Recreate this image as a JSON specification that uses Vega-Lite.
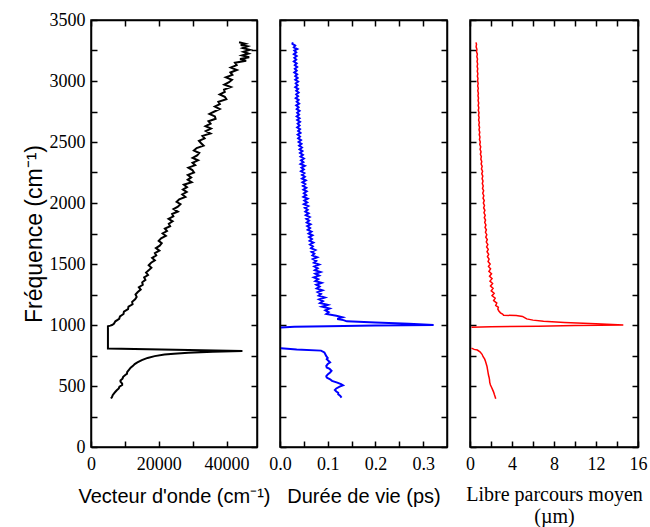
{
"$schema": "https://vega.github.io/schema/vega-lite/v6.json",
"padding": {"left": 22, "top": 10, "right": 2, "bottom": 2},
"background": "white",
"bounds": "flush",
"config": {
  "view": {"stroke": "black", "strokeWidth": 1.5},
  "concat": {"spacing": 23},
  "axis": {"domainColor": "black", "domainWidth": 1.5, "tickColor": "black", "tickWidth": 1.5, "tickSize": -6, "labelFont": "Liberation Serif", "labelFontSize": 18, "labelColor": "black", "labelPadding": 14, "labelFlush": false, "titleFont": "Liberation Sans", "titleFontSize": 20, "titleFontWeight": "normal", "titleColor": "black", "grid": false, "minExtent": 0, "labelOverlap": false}
},
"datasets": {
"k": [
{"f":3317,"v":43700},{"f":3305,"v":45500},{"f":3295,"v":44200},{"f":3285,"v":46200},{"f":3270,"v":44800},{"f":3255,"v":46800},{"f":3240,"v":45000},{"f":3225,"v":46500},{"f":3210,"v":44600},{"f":3195,"v":46700},{"f":3180,"v":44000},{"f":3166,"v":45800},{"f":3150,"v":42500},
{"f":3130,"v":43000},{"f":3110,"v":41270},{"f":3090,"v":43060},{"f":3070,"v":41150},{"f":3050,"v":41730},{"f":3030,"v":39820},{"f":3010,"v":41610},{"f":2990,"v":40750},{"f":2970,"v":39360},{"f":2950,"v":41270},{"f":2930,"v":39280},{"f":2910,"v":39490},{"f":2890,"v":37990},{"f":2870,"v":39500},{"f":2850,"v":39960},{"f":2830,"v":37600},{"f":2810,"v":38030},{"f":2790,"v":36570},{"f":2770,"v":38000},{"f":2750,"v":36440},{"f":2730,"v":34970},{"f":2710,"v":36570},{"f":2690,"v":36780},{"f":2670,"v":34680},{"f":2650,"v":35290},{"f":2630,"v":33800},{"f":2610,"v":35410},{"f":2590,"v":33910},{"f":2570,"v":35260},{"f":2550,"v":32900},{"f":2530,"v":33530},{"f":2510,"v":31870},{"f":2490,"v":32510},{"f":2470,"v":33240},{"f":2450,"v":31190},{"f":2430,"v":30370},{"f":2410,"v":31950},{"f":2390,"v":31330},{"f":2370,"v":30010},{"f":2350,"v":31590},{"f":2330,"v":29970},{"f":2310,"v":30760},{"f":2290,"v":28740},{"f":2270,"v":29920},{"f":2250,"v":30410},{"f":2230,"v":28590},{"f":2210,"v":29570},{"f":2190,"v":28550},{"f":2170,"v":29710},{"f":2150,"v":27420},{"f":2130,"v":28330},{"f":2110,"v":27130},{"f":2090,"v":28240},{"f":2070,"v":26950},{"f":2050,"v":27860},{"f":2030,"v":26040},{"f":2010,"v":25270},{"f":1990,"v":26410},{"f":1970,"v":25650},{"f":1950,"v":24380},{"f":1930,"v":25620},{"f":1910,"v":23950},{"f":1890,"v":24310},{"f":1870,"v":22900},{"f":1850,"v":24080},{"f":1830,"v":22970},{"f":1810,"v":23360},{"f":1790,"v":21810},{"f":1770,"v":22430},{"f":1750,"v":21150},{"f":1730,"v":22090},{"f":1710,"v":20690},{"f":1690,"v":19980},{"f":1670,"v":20880},{"f":1650,"v":20280},{"f":1630,"v":19170},{"f":1610,"v":20170},{"f":1590,"v":18860},{"f":1570,"v":19260},{"f":1550,"v":18050},{"f":1530,"v":18850},{"f":1510,"v":17740},{"f":1490,"v":17030},{"f":1470,"v":17830},{"f":1450,"v":17100},{"f":1430,"v":16260},{"f":1410,"v":16830},{"f":1390,"v":15690},{"f":1370,"v":16060},{"f":1350,"v":15120},{"f":1330,"v":15280},{"f":1310,"v":14130},{"f":1290,"v":14670},{"f":1270,"v":13810},{"f":1250,"v":13140},{"f":1230,"v":13480},{"f":1210,"v":13020},{"f":1190,"v":12150},{"f":1170,"v":12270},{"f":1150,"v":11060},{"f":1130,"v":10940},{"f":1110,"v":9720},{"f":1090,"v":9600},{"f":1070,"v":8550},{"f":1050,"v":8320},{"f":1030,"v":7190},{"f":1010,"v":6760},{"f":1000,"v":6200},{"f":995,"v":5700},{"f":990,"v":5000},{"f":981,"v":5000},{"f":808,"v":5000},{"f":786,"v":44700},{"f":780,"v":36000},{"f":772,"v":28700},{"f":765,"v":24500},{"f":758,"v":21700},{"f":745,"v":18800},{"f":730,"v":16700},{"f":712,"v":15000},{"f":694,"v":13700},{"f":680,"v":12900},{"f":665,"v":12400},{"f":650,"v":11700},{"f":633,"v":11200},{"f":615,"v":10700},{"f":600,"v":10600},{"f":592,"v":10200},{"f":575,"v":9500},{"f":560,"v":9300},{"f":545,"v":8700},{"f":536,"v":8700},{"f":520,"v":9200},{"f":508,"v":9200},{"f":495,"v":8400},{"f":480,"v":8200},{"f":465,"v":7600},{"f":453,"v":7200},{"f":440,"v":6800},{"f":425,"v":6400},{"f":410,"v":6200},{"f":397,"v":5900}
],
"b": [
{"s":"a","f":3317,"v":0.027},{"s":"a","f":3305,"v":0.026},{"s":"a","f":3290,"v":0.032},{"s":"a","f":3275,"v":0.029},{"s":"a","f":3262,"v":0.036},{"s":"a","f":3250,"v":0.030},{"s":"a","f":3235,"v":0.034},{"s":"a","f":3220,"v":0.029},{"s":"a","f":3205,"v":0.035},{"s":"a","f":3190,"v":0.030},{"s":"a","f":3175,"v":0.034},{"s":"a","f":3160,"v":0.029},{"s":"a","f":3145,"v":0.035},{"s":"a","f":3130,"v":0.031},{"s":"a","f":3115,"v":0.036},{"s":"a","f":3100,"v":0.031},{"s":"a","f":3085,"v":0.035},{"s":"a","f":3070,"v":0.030},{"s":"a","f":3055,"v":0.036},{"s":"a","f":3040,"v":0.032},{"s":"a","f":3025,"v":0.037},{"s":"a","f":3010,"v":0.032},{"s":"a","f":2995,"v":0.038},{"s":"a","f":2980,"v":0.033},{"s":"a","f":2965,"v":0.037},{"s":"a","f":2950,"v":0.032},{"s":"a","f":2935,"v":0.038},{"s":"a","f":2920,"v":0.034},{"s":"a","f":2905,"v":0.039},{"s":"a","f":2890,"v":0.034},{"s":"a","f":2875,"v":0.038},{"s":"a","f":2860,"v":0.033},{"s":"a","f":2845,"v":0.039},{"s":"a","f":2830,"v":0.035},{"s":"a","f":2815,"v":0.040},{"s":"a","f":2800,"v":0.034},{"s":"a","f":2785,"v":0.039},{"s":"a","f":2770,"v":0.035},{"s":"a","f":2755,"v":0.041},{"s":"a","f":2740,"v":0.036},{"s":"a","f":2725,"v":0.040},{"s":"a","f":2710,"v":0.035},{"s":"a","f":2695,"v":0.041},{"s":"a","f":2680,"v":0.036},{"s":"a","f":2665,"v":0.042},{"s":"a","f":2650,"v":0.037},{"s":"a","f":2635,"v":0.041},{"s":"a","f":2620,"v":0.036},{"s":"a","f":2605,"v":0.042},{"s":"a","f":2590,"v":0.038},{"s":"a","f":2575,"v":0.043},{"s":"a","f":2560,"v":0.037},{"s":"a","f":2545,"v":0.042},{"s":"a","f":2530,"v":0.038},{"s":"a","f":2515,"v":0.044},{"s":"a","f":2500,"v":0.039},{"s":"a","f":2485,"v":0.045},{"s":"a","f":2470,"v":0.040},{"s":"a","f":2455,"v":0.046},{"s":"a","f":2440,"v":0.041},{"s":"a","f":2425,"v":0.047},{"s":"a","f":2410,"v":0.042},{"s":"a","f":2395,"v":0.048},{"s":"a","f":2380,"v":0.043},{"s":"a","f":2365,"v":0.050},{"s":"a","f":2350,"v":0.044},{"s":"a","f":2335,"v":0.049},{"s":"a","f":2320,"v":0.043},{"s":"a","f":2305,"v":0.052},{"s":"a","f":2290,"v":0.045},{"s":"a","f":2275,"v":0.050},{"s":"a","f":2260,"v":0.044},{"s":"a","f":2245,"v":0.051},{"s":"a","f":2230,"v":0.046},{"s":"a","f":2215,"v":0.052},{"s":"a","f":2200,"v":0.046},{"s":"a","f":2185,"v":0.054},{"s":"a","f":2170,"v":0.047},{"s":"a","f":2155,"v":0.053},{"s":"a","f":2140,"v":0.048},{"s":"a","f":2125,"v":0.055},{"s":"a","f":2110,"v":0.049},{"s":"a","f":2095,"v":0.056},{"s":"a","f":2080,"v":0.050},{"s":"a","f":2065,"v":0.055},{"s":"a","f":2050,"v":0.049},{"s":"a","f":2035,"v":0.058},{"s":"a","f":2020,"v":0.051},{"s":"a","f":2005,"v":0.057},{"s":"a","f":1990,"v":0.050},{"s":"a","f":1975,"v":0.059},{"s":"a","f":1960,"v":0.052},{"s":"a","f":1945,"v":0.058},{"s":"a","f":1930,"v":0.053},{"s":"a","f":1915,"v":0.060},{"s":"a","f":1900,"v":0.054},{"s":"a","f":1885,"v":0.062},{"s":"a","f":1870,"v":0.055},{"s":"a","f":1855,"v":0.061},{"s":"a","f":1840,"v":0.056},{"s":"a","f":1825,"v":0.064},{"s":"a","f":1810,"v":0.057},{"s":"a","f":1795,"v":0.063},{"s":"a","f":1780,"v":0.058},{"s":"a","f":1765,"v":0.066},{"s":"a","f":1750,"v":0.060},{"s":"a","f":1735,"v":0.068},{"s":"a","f":1720,"v":0.061},{"s":"a","f":1705,"v":0.067},{"s":"a","f":1690,"v":0.062},{"s":"a","f":1675,"v":0.070},{"s":"a","f":1660,"v":0.063},{"s":"a","f":1645,"v":0.069},{"s":"a","f":1630,"v":0.065},{"s":"a","f":1615,"v":0.074},{"s":"a","f":1600,"v":0.066},{"s":"a","f":1585,"v":0.072},{"s":"a","f":1570,"v":0.068},{"s":"a","f":1555,"v":0.078},{"s":"a","f":1540,"v":0.069},{"s":"a","f":1525,"v":0.076},{"s":"a","f":1510,"v":0.071},{"s":"a","f":1495,"v":0.082},{"s":"a","f":1480,"v":0.072},{"s":"a","f":1465,"v":0.079},{"s":"a","f":1450,"v":0.073},{"s":"a","f":1435,"v":0.085},{"s":"a","f":1420,"v":0.074},{"s":"a","f":1405,"v":0.082},{"s":"a","f":1390,"v":0.071},{"s":"a","f":1375,"v":0.080},{"s":"a","f":1360,"v":0.074},{"s":"a","f":1345,"v":0.087},{"s":"a","f":1330,"v":0.076},{"s":"a","f":1315,"v":0.083},{"s":"a","f":1300,"v":0.077},{"s":"a","f":1285,"v":0.089},{"s":"a","f":1270,"v":0.079},{"s":"a","f":1255,"v":0.086},{"s":"a","f":1240,"v":0.081},{"s":"a","f":1225,"v":0.094},{"s":"a","f":1210,"v":0.082},{"s":"a","f":1195,"v":0.090},{"s":"a","f":1180,"v":0.084},{"s":"a","f":1165,"v":0.100},{"s":"a","f":1150,"v":0.088},{"s":"a","f":1135,"v":0.104},{"s":"a","f":1120,"v":0.095},{"s":"a","f":1105,"v":0.102},{"s":"a","f":1090,"v":0.097},{"s":"a","f":1075,"v":0.118},{"s":"a","f":1063,"v":0.131},{"s":"a","f":1050,"v":0.120},{"s":"a","f":1040,"v":0.133},{"s":"a","f":1030,"v":0.140},{"s":"a","f":1020,"v":0.200},{"s":"a","f":1010,"v":0.270},{"s":"a","f":1000,"v":0.322},{"s":"a","f":995,"v":0.200},{"s":"a","f":990,"v":0.100},{"s":"a","f":985,"v":0.030},{"s":"a","f":980,"v":0.002},
{"s":"b","f":810,"v":0.002},{"s":"b","f":800,"v":0.035},{"s":"b","f":790,"v":0.086},{"s":"b","f":775,"v":0.093},{"s":"b","f":760,"v":0.095},{"s":"b","f":745,"v":0.097},{"s":"b","f":730,"v":0.100},{"s":"b","f":720,"v":0.098},{"s":"b","f":705,"v":0.102},{"s":"b","f":693,"v":0.105},{"s":"b","f":680,"v":0.100},{"s":"b","f":665,"v":0.097},{"s":"b","f":652,"v":0.098},{"s":"b","f":640,"v":0.104},{"s":"b","f":625,"v":0.108},{"s":"b","f":610,"v":0.105},{"s":"b","f":595,"v":0.100},{"s":"b","f":580,"v":0.097},{"s":"b","f":569,"v":0.098},{"s":"b","f":555,"v":0.105},{"s":"b","f":542,"v":0.109},{"s":"b","f":528,"v":0.120},{"s":"b","f":515,"v":0.128},{"s":"b","f":506,"v":0.132},{"s":"b","f":495,"v":0.125},{"s":"b","f":480,"v":0.118},{"s":"b","f":467,"v":0.115},{"s":"b","f":455,"v":0.118},{"s":"b","f":445,"v":0.122},{"s":"b","f":432,"v":0.122},{"s":"b","f":420,"v":0.126},{"s":"b","f":404,"v":0.129}
],
"r": [
{"s":"a","f":3317,"v":0.57},{"s":"a","f":3300,"v":0.62},{"s":"a","f":3280,"v":0.58},{"s":"a","f":3260,"v":0.66},{"s":"a","f":3240,"v":0.62},{"s":"a","f":3220,"v":0.70},{"s":"a","f":3200,"v":0.65},{"s":"a","f":3180,"v":0.72},{"s":"a","f":3160,"v":0.67},{"s":"a","f":3140,"v":0.73},{"s":"a","f":3120,"v":0.68},{"s":"a","f":3100,"v":0.74},{"s":"a","f":3080,"v":0.69},{"s":"a","f":3060,"v":0.75},{"s":"a","f":3040,"v":0.70},{"s":"a","f":3020,"v":0.76},{"s":"a","f":3000,"v":0.72},{"s":"a","f":2980,"v":0.78},{"s":"a","f":2960,"v":0.73},{"s":"a","f":2940,"v":0.79},{"s":"a","f":2920,"v":0.74},{"s":"a","f":2900,"v":0.80},{"s":"a","f":2880,"v":0.76},{"s":"a","f":2860,"v":0.81},{"s":"a","f":2840,"v":0.77},{"s":"a","f":2820,"v":0.83},{"s":"a","f":2800,"v":0.78},{"s":"a","f":2780,"v":0.84},{"s":"a","f":2760,"v":0.79},{"s":"a","f":2740,"v":0.86},{"s":"a","f":2720,"v":0.81},{"s":"a","f":2700,"v":0.87},{"s":"a","f":2680,"v":0.82},{"s":"a","f":2660,"v":0.89},{"s":"a","f":2640,"v":0.84},{"s":"a","f":2620,"v":0.91},{"s":"a","f":2600,"v":0.86},{"s":"a","f":2580,"v":0.93},{"s":"a","f":2560,"v":0.88},{"s":"a","f":2540,"v":0.95},{"s":"a","f":2520,"v":0.90},{"s":"a","f":2500,"v":0.98},{"s":"a","f":2480,"v":0.93},{"s":"a","f":2460,"v":1.02},{"s":"a","f":2440,"v":0.96},{"s":"a","f":2420,"v":1.05},{"s":"a","f":2400,"v":0.99},{"s":"a","f":2380,"v":1.08},{"s":"a","f":2360,"v":1.03},{"s":"a","f":2340,"v":1.12},{"s":"a","f":2320,"v":1.06},{"s":"a","f":2300,"v":1.16},{"s":"a","f":2280,"v":1.09},{"s":"a","f":2260,"v":1.20},{"s":"a","f":2240,"v":1.12},{"s":"a","f":2220,"v":1.22},{"s":"a","f":2200,"v":1.15},{"s":"a","f":2180,"v":1.24},{"s":"a","f":2160,"v":1.17},{"s":"a","f":2140,"v":1.26},{"s":"a","f":2120,"v":1.19},{"s":"a","f":2100,"v":1.30},{"s":"a","f":2080,"v":1.21},{"s":"a","f":2060,"v":1.32},{"s":"a","f":2040,"v":1.24},{"s":"a","f":2020,"v":1.36},{"s":"a","f":2000,"v":1.27},{"s":"a","f":1980,"v":1.38},{"s":"a","f":1960,"v":1.30},{"s":"a","f":1940,"v":1.42},{"s":"a","f":1920,"v":1.33},{"s":"a","f":1900,"v":1.45},{"s":"a","f":1880,"v":1.36},{"s":"a","f":1860,"v":1.48},{"s":"a","f":1840,"v":1.40},{"s":"a","f":1820,"v":1.52},{"s":"a","f":1800,"v":1.43},{"s":"a","f":1780,"v":1.56},{"s":"a","f":1760,"v":1.47},{"s":"a","f":1740,"v":1.60},{"s":"a","f":1720,"v":1.50},{"s":"a","f":1700,"v":1.65},{"s":"a","f":1680,"v":1.55},{"s":"a","f":1660,"v":1.70},{"s":"a","f":1640,"v":1.58},{"s":"a","f":1620,"v":1.74},{"s":"a","f":1600,"v":1.62},{"s":"a","f":1580,"v":1.78},{"s":"a","f":1560,"v":1.66},{"s":"a","f":1540,"v":1.82},{"s":"a","f":1520,"v":1.72},{"s":"a","f":1500,"v":1.92},{"s":"a","f":1480,"v":1.76},{"s":"a","f":1460,"v":1.96},{"s":"a","f":1440,"v":1.80},{"s":"a","f":1420,"v":2.05},{"s":"a","f":1400,"v":1.86},{"s":"a","f":1380,"v":2.10},{"s":"a","f":1360,"v":1.90},{"s":"a","f":1340,"v":2.15},{"s":"a","f":1320,"v":1.95},{"s":"a","f":1300,"v":2.20},{"s":"a","f":1280,"v":2.02},{"s":"a","f":1260,"v":2.30},{"s":"a","f":1240,"v":2.10},{"s":"a","f":1220,"v":2.40},{"s":"a","f":1200,"v":2.25},{"s":"a","f":1180,"v":2.55},{"s":"a","f":1160,"v":2.45},{"s":"a","f":1145,"v":2.70},{"s":"a","f":1130,"v":2.65},{"s":"a","f":1115,"v":2.75},{"s":"a","f":1100,"v":2.90},{"s":"a","f":1090,"v":3.10},{"s":"a","f":1080,"v":3.20},{"s":"a","f":1077,"v":4.40},{"s":"a","f":1070,"v":5.00},{"s":"a","f":1060,"v":5.20},{"s":"a","f":1050,"v":5.40},{"s":"a","f":1040,"v":6.00},{"s":"a","f":1030,"v":7.00},{"s":"a","f":1020,"v":9.00},{"s":"a","f":1010,"v":12.00},{"s":"a","f":1000,"v":14.60},{"s":"a","f":995,"v":10.0},{"s":"a","f":990,"v":6.5},{"s":"a","f":985,"v":2.0},{"s":"a","f":981,"v":0.14},
{"s":"b","f":810,"v":0.14},{"s":"b","f":800,"v":0.40},{"s":"b","f":795,"v":0.70},{"s":"b","f":780,"v":0.95},{"s":"b","f":760,"v":1.15},{"s":"b","f":740,"v":1.25},{"s":"b","f":720,"v":1.40},{"s":"b","f":700,"v":1.48},{"s":"b","f":680,"v":1.55},{"s":"b","f":660,"v":1.62},{"s":"b","f":645,"v":1.65},{"s":"b","f":630,"v":1.68},{"s":"b","f":610,"v":1.72},{"s":"b","f":590,"v":1.76},{"s":"b","f":570,"v":1.82},{"s":"b","f":550,"v":1.86},{"s":"b","f":530,"v":1.88},{"s":"b","f":508,"v":1.95},{"s":"b","f":490,"v":2.05},{"s":"b","f":470,"v":2.15},{"s":"b","f":450,"v":2.25},{"s":"b","f":430,"v":2.32},{"s":"b","f":410,"v":2.40},{"s":"b","f":395,"v":2.45}
]
},
"hconcat": [
{
  "width": 166, "height": 427,
  "data": {"name": "k"},
  "layer": [
    {"mark": {"type": "line", "color": "black", "strokeWidth": 2},
     "encoding": {
       "x": {"field": "v", "type": "quantitative", "scale": {"domain": [0, 49000], "nice": false, "zero": false}, "axis": {"title": "Vecteur d'onde (cm⁻¹)", "values": [0, 10000, 20000, 30000, 40000], "format": "d", "labelExpr": "datum.value % 20000 === 0 ? datum.label : ''", "titlePadding": 13}},
       "y": {"field": "f", "type": "quantitative", "scale": {"domain": [0, 3500], "nice": false}, "axis": {"title": "Fréquence (cm⁻¹)", "titleFontSize": 23, "values": [0,250,500,750,1000,1250,1500,1750,2000,2250,2500,2750,3000,3250,3500], "format": "d", "labelExpr": "datum.value % 500 === 0 ? datum.label : ''", "labelPadding": 12, "titlePadding": 3}},
       "order": {"field": "f", "type": "quantitative"}
     }},
    {"mark": {"type": "line", "opacity": 0},
     "encoding": {
       "x": {"field": "v", "type": "quantitative", "axis": {"title": null, "labels": false, "values": [0, 10000, 20000, 30000, 40000]}},
       "y": {"field": "f", "type": "quantitative", "axis": {"title": null, "labels": false, "values": [0,250,500,750,1000,1250,1500,1750,2000,2250,2500,2750,3000,3250,3500]}},
       "order": {"field": "f", "type": "quantitative"}
     }}
  ],
  "resolve": {"axis": {"x": "independent", "y": "independent"}}
},
{
  "width": 167, "height": 427,
  "data": {"name": "b"},
  "layer": [
    {"mark": {"type": "line", "color": "#0000ff", "strokeWidth": 2},
     "encoding": {
       "x": {"field": "v", "type": "quantitative", "scale": {"domain": [0, 0.35], "nice": false}, "axis": {"title": "Durée de vie (ps)", "values": [0, 0.05, 0.1, 0.15, 0.2, 0.25, 0.3], "format": ".1f", "labelExpr": "(round(datum.value*100) % 10) === 0 ? datum.label : ''", "titlePadding": 13}},
       "y": {"field": "f", "type": "quantitative", "scale": {"domain": [0, 3500], "nice": false}, "axis": {"title": null, "labels": false, "values": [0,250,500,750,1000,1250,1500,1750,2000,2250,2500,2750,3000,3250,3500]}},
       "detail": {"field": "s"},
       "order": {"field": "f", "type": "quantitative"}
     }},
    {"mark": {"type": "line", "opacity": 0},
     "encoding": {
       "x": {"field": "v", "type": "quantitative", "axis": {"title": null, "labels": false, "values": [0, 0.05, 0.1, 0.15, 0.2, 0.25, 0.3]}},
       "y": {"field": "f", "type": "quantitative", "axis": {"title": null, "labels": false, "values": [0,250,500,750,1000,1250,1500,1750,2000,2250,2500,2750,3000,3250,3500]}},
       "detail": {"field": "s"},
       "order": {"field": "f", "type": "quantitative"}
     }}
  ],
  "resolve": {"axis": {"x": "independent", "y": "independent"}}
},
{
  "width": 168, "height": 427,
  "data": {"name": "r"},
  "layer": [
    {"mark": {"type": "line", "color": "#ff0000", "strokeWidth": 1.5},
     "encoding": {
       "x": {"field": "v", "type": "quantitative", "scale": {"domain": [0, 16], "nice": false}, "axis": {"title": ["Libre parcours moyen", "(µm)"], "titleFont": "Liberation Serif", "titleFontSize": 20, "titleLineHeight": 22, "values": [0, 2, 4, 6, 8, 10, 12, 14, 16], "format": "d", "labelExpr": "datum.value % 4 === 0 ? datum.label : ''", "titlePadding": 11}},
       "y": {"field": "f", "type": "quantitative", "scale": {"domain": [0, 3500], "nice": false}, "axis": {"title": null, "labels": false, "values": [0,250,500,750,1000,1250,1500,1750,2000,2250,2500,2750,3000,3250,3500]}},
       "detail": {"field": "s"},
       "order": {"field": "f", "type": "quantitative"}
     }},
    {"mark": {"type": "line", "opacity": 0},
     "encoding": {
       "x": {"field": "v", "type": "quantitative", "axis": {"title": null, "labels": false, "values": [0, 2, 4, 6, 8, 10, 12, 14, 16]}},
       "y": {"field": "f", "type": "quantitative", "axis": {"title": null, "labels": false, "values": [0,250,500,750,1000,1250,1500,1750,2000,2250,2500,2750,3000,3250,3500]}},
       "detail": {"field": "s"},
       "order": {"field": "f", "type": "quantitative"}
     }}
  ],
  "resolve": {"axis": {"x": "independent", "y": "independent"}}
}
]
}
